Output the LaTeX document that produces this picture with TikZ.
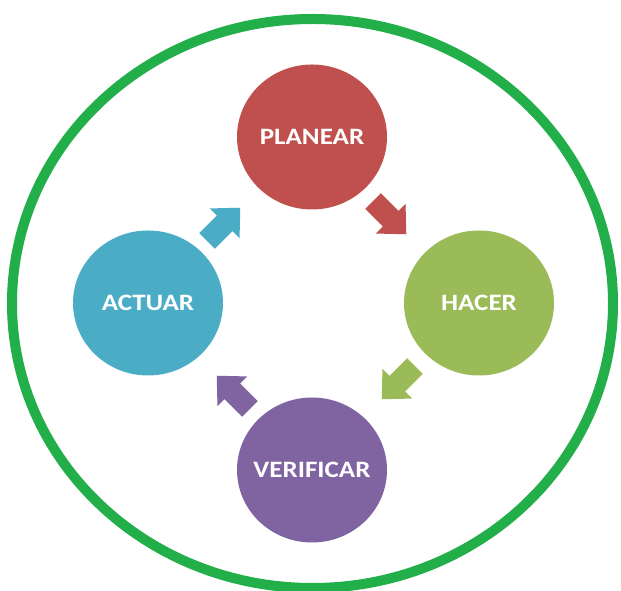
\documentclass[tikz,border=0pt]{standalone}
\usepackage{fontspec}
\setmainfont{Carlito}
\newfontfamily\stagefont[FakeStretch=1.15]{Carlito}
\usetikzlibrary{shapes.geometric}

\definecolor{ringgreen}{HTML}{22AE48}
\definecolor{planred}{HTML}{C0504D}
\definecolor{hacgreen}{HTML}{9BBB59}
\definecolor{verpurple}{HTML}{8064A2}
\definecolor{actblue}{HTML}{4BACC6}

\begin{document}
\begin{tikzpicture}
	[x=1pt, y=1pt,
	stage/.style={ellipse, minimum width=150pt, minimum height=145pt, inner sep=0pt,
		text=white, font=\stagefont\bfseries\fontsize{23.5}{28}\selectfont}]

	\useasboundingbox (0,0) rectangle (621,591);

	% Draw outer ring
	\draw[ringgreen, line width=10pt] (312.5,287.5) ellipse [x radius=300.5, y radius=284.5];

	% Create stages
	\node[stage, fill=planred] (plan) at (312,454) {\makebox[0pt]{PLANEAR}};
	\node[stage, fill=hacgreen] (hacer) at (479,288) {\makebox[0pt]{HACER}};
	\node[stage, fill=verpurple] (verif) at (312,121) {\makebox[0pt]{VERIFICAR}};
	\node[stage, fill=actblue] (actuar) at (148,288) {\makebox[0pt]{ACTUAR}};

	% Draw cycle arrows
	\foreach \px/\py/\ang/\col in {390/373/-45/planred, 398/208/-135/hacgreen,
		233/199/135/verpurple, 224/367/45/actblue}
	{
		\fill[\col, shift={(\px,\py)}, rotate=\ang]
			(-24,-11) -- (1,-11) -- (1,-21) -- (23,0) -- (1,21) -- (1,11) -- (-24,11) -- cycle;
	}

\end{tikzpicture}
\end{document}
